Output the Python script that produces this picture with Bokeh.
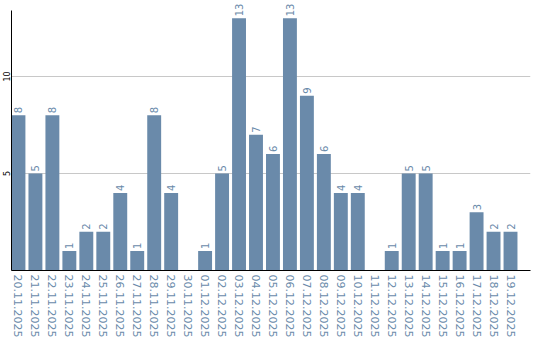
import math
from bokeh.plotting import figure
from bokeh.models import ColumnDataSource, Range1d, FixedTicker
from bokeh.core.properties import value
from bokeh.embed import file_html
from bokeh.resources import INLINE

dates = ["20.11.2025", "21.11.2025", "22.11.2025", "23.11.2025", "24.11.2025",
         "25.11.2025", "26.11.2025", "27.11.2025", "28.11.2025", "29.11.2025",
         "30.11.2025", "01.12.2025", "02.12.2025", "03.12.2025", "04.12.2025",
         "05.12.2025", "06.12.2025", "07.12.2025", "08.12.2025", "09.12.2025",
         "10.12.2025", "11.12.2025", "12.12.2025", "13.12.2025", "14.12.2025",
         "15.12.2025", "16.12.2025", "17.12.2025", "18.12.2025", "19.12.2025"]
counts = [8, 5, 8, 1, 2, 2, 4, 1, 8, 4,
          0, 1, 5, 13, 7, 6, 13, 9, 6, 4,
          4, 0, 1, 5, 5, 1, 1, 3, 2, 2]
y_ticks = [5, 10]

idx = list(range(len(dates)))
labels = [str(c) if c > 0 else "" for c in counts]
src = ColumnDataSource(dict(x=idx, top=counts, lab=labels))

BAR = "#6a8aaa"
W = 0.82
Y_TOP = 13.4

p = figure(width=540, height=340, output_backend="svg", toolbar_location=None,
           x_range=Range1d(-W / 2, -W / 2 + 520 / 17),
           y_range=Range1d(0, Y_TOP * 270 / 260),
           min_border_left=0, min_border_right=10, min_border_top=0,
           min_border_bottom=0)
p.outline_line_color = None
p.background_fill_color = "white"

p.vbar(x="x", top="top", width=W, bottom=0, source=src, color=BAR, line_color=None)
p.text(x="x", y="top", text="lab", source=src, angle=math.pi / 2,
       text_align="left", text_baseline="middle", y_offset=-2,
       text_font=value("DejaVu Sans"), text_font_size="10px", text_color=BAR)

p.xgrid.visible = False
p.ygrid.ticker = FixedTicker(ticks=y_ticks)
p.ygrid.grid_line_color = "#c8c8c8"

xa = p.xaxis[0]
xa.ticker = FixedTicker(ticks=idx)
xa.major_label_overrides = {i: d for i, d in enumerate(dates)}
xa.major_label_orientation = "vertical"
xa.major_label_text_font = "DejaVu Sans"
xa.major_label_text_font_size = "11px"
xa.major_label_text_color = BAR
xa.major_tick_line_color = None
xa.minor_tick_line_color = None
xa.major_tick_out = 0
xa.major_tick_in = 0
xa.major_label_standoff = 4
xa.axis_line_color = "black"

ya = p.yaxis[0]
ya.ticker = FixedTicker(ticks=y_ticks)
ya.bounds = (0, Y_TOP)
ya.major_label_orientation = "vertical"
ya.major_label_text_font = "DejaVu Sans"
ya.major_label_text_font_size = "8px"
ya.major_label_text_color = "black"
ya.major_tick_line_color = None
ya.minor_tick_line_color = None
ya.major_tick_out = 0
ya.major_tick_in = 0
ya.major_label_standoff = 1
ya.axis_line_color = "black"

open("out.html", "w").write(file_html(p, INLINE))
